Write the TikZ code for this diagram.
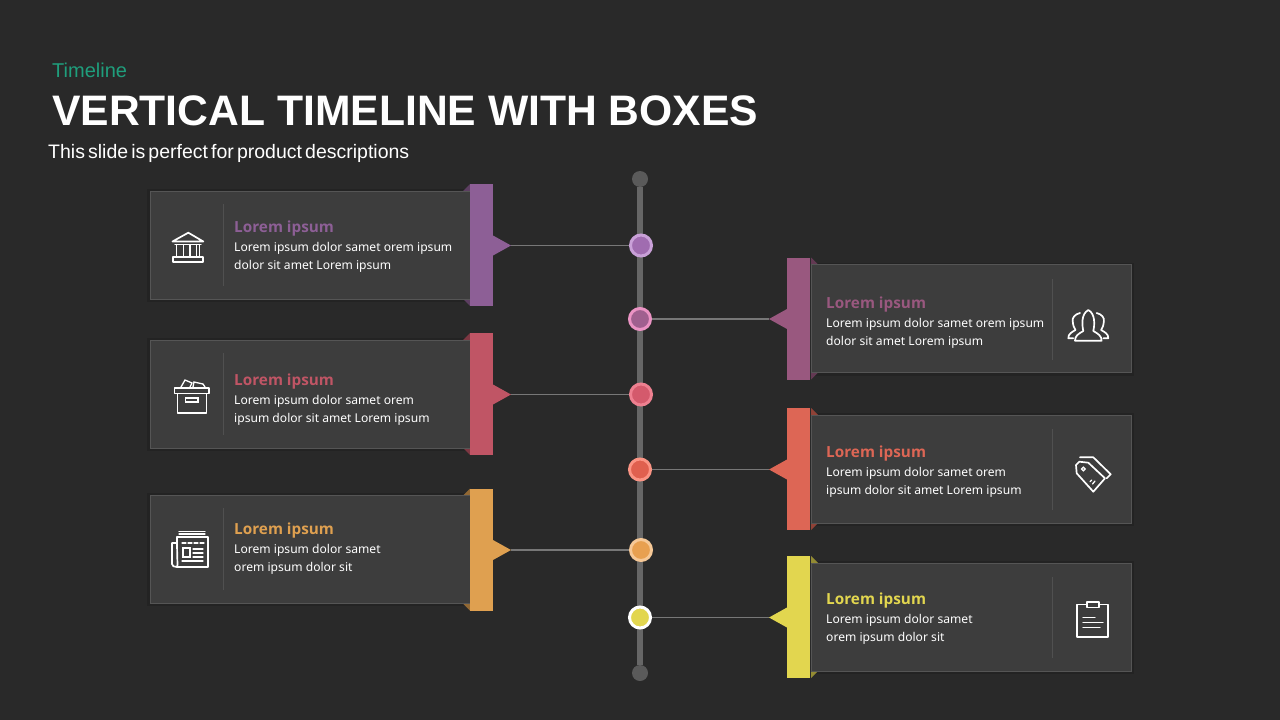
\documentclass[tikz,border=0pt]{standalone}
\usepackage{fontspec}
\setmainfont{Liberation Sans}
\newfontfamily\bodyfont{Noto Sans}
\newfontfamily\headfont{Open Sans}[BoldFont={Open Sans Bold}]
\definecolor{bg}{HTML}{292929}
\definecolor{cardfill}{HTML}{3D3D3D}
\definecolor{cardline}{HTML}{555555}
\definecolor{cardshade}{HTML}{232323}
\definecolor{axisgrey}{HTML}{666666}
\definecolor{endgrey}{HTML}{5A5A5A}
\definecolor{linkgrey}{HTML}{777777}
\definecolor{sepgrey}{HTML}{505050}
\definecolor{teal}{HTML}{1F9E7C}
\definecolor{cA}{HTML}{8D5F96}\definecolor{rA}{HTML}{C9A0D8}\definecolor{mA}{HTML}{A06CB0}
\definecolor{cB}{HTML}{99587F}\definecolor{rB}{HTML}{EB93C4}\definecolor{mB}{HTML}{A0608F}
\definecolor{cC}{HTML}{C05565}\definecolor{rC}{HTML}{EE8090}\definecolor{mC}{HTML}{D45A6C}
\definecolor{cD}{HTML}{DD6655}\definecolor{rD}{HTML}{FB9484}\definecolor{mD}{HTML}{E0604F}
\definecolor{cE}{HTML}{DFA050}\definecolor{rE}{HTML}{F6C896}\definecolor{mE}{HTML}{E8A050}
\definecolor{cF}{HTML}{E2D64F}\definecolor{rF}{HTML}{FFFFFF}\definecolor{mF}{HTML}{E2D64F}
\tikzset{
  x=1pt,y=-1pt,
  card/.style={draw=cardline,fill=cardfill,line width=1pt,minimum width=320pt,minimum height=108pt,inner sep=0pt},
  flag/.style={minimum width=23pt,minimum height=122pt,inner sep=0pt},
  dot/.style={circle,minimum size=21pt,inner sep=0pt,line width=3pt},
  enddot/.style={circle,fill=endgrey,minimum size=16pt,inner sep=0pt},
  link/.style={draw=linkgrey,line width=1.6pt},
  sep/.style={draw=sepgrey,line width=1pt},
  head/.style={anchor=base west,inner sep=0pt,font=\headfont\fontsize{15.3}{18}\selectfont\bfseries},
  bodytext/.style={anchor=base west,inner sep=0pt,text=white,font=\bodyfont\fontsize{12.1}{14}\selectfont},
  icon/.style={draw=white,line width=1.7pt,line join=round,line cap=round},
  thin icon/.style={draw=white,line width=1.3pt,line cap=round}
}
% #1 name #2 card centre y #3 flag tip y #4 colour #5 heading baseline
% #6 line 1 #7 line 2
\newcommand{\leftcard}[7]{
  \fill[cardshade] (147,#2-56) rectangle (470,#2+57);
  \fill[#4!65!black] (463,#3-54.5) -- (470,#3-61.5) -- (470,#3-53.5) -- cycle;
  \fill[#4!65!black] (463,#3+53.5) -- (470,#3+60.5) -- (470,#3+52.5) -- cycle;
  \node[card] (card#1) at (310,#2) {};
  \node[flag,fill=#4] (flag#1) at (481.5,#3-0.5) {};
  \coordinate (tip#1) at (511,#3);
  \fill[#4] (493,#3-10) -- (tip#1) -- (493,#3+10) -- cycle;
  \draw[sep] (223,#2-41) -- (223,#2+41);
  \node[head,text=#4] (title#1) at (234,#5) {Lorem ipsum};
  \node[bodytext] (lineone#1) at (234,#5+19) {#6};
  \node[bodytext] (linetwo#1) at (234,#5+37) {#7};
}
\newcommand{\rightcard}[7]{
  \fill[cardshade] (811,#2-56) rectangle (1134,#2+57);
  \fill[#4!65!black] (818,#3-54.5) -- (811,#3-61.5) -- (811,#3-53.5) -- cycle;
  \fill[#4!65!black] (818,#3+53.5) -- (811,#3+60.5) -- (811,#3+52.5) -- cycle;
  \node[card] (card#1) at (971,#2) {};
  \node[flag,fill=#4] (flag#1) at (798.5,#3-0.5) {};
  \coordinate (tip#1) at (769,#3);
  \fill[#4] (787,#3-10) -- (tip#1) -- (787,#3+10) -- cycle;
  \draw[sep] (1052,#2-40) -- (1052,#2+41);
  \node[head,text=#4] (title#1) at (826,#5) {Lorem ipsum};
  \node[bodytext] (lineone#1) at (826,#5+19) {#6};
  \node[bodytext] (linetwo#1) at (826,#5+37) {#7};
}
\begin{document}
\begin{tikzpicture}
\useasboundingbox (0,0) rectangle (1280,720);
\fill[bg] (0,0) rectangle (1280,720);
% heading
\node[anchor=base west,inner sep=0pt,text=teal,font=\fontsize{20}{24}\selectfont] (kicker) at (52,77) {Timeline};
\node[anchor=base west,inner sep=0pt,text=white,font=\fontsize{42.65}{48}\selectfont\bfseries] (maintitle) at (52,125) {VERTICAL TIMELINE WITH BOXES};
\node[anchor=base west,inner sep=0pt,text=white,font=\fontsize{19.5}{24}\selectfont] (subtitle) at (48,158) {\spaceskip=3.1pt This slide is perfect for product descriptions};
% axis
\node[enddot] (axistop) at (640,179) {};
\node[enddot] (axisbottom) at (640,673) {};
\draw[axisgrey,line width=5.5pt] (axistop) -- (axisbottom);
% cards
\leftcard{A}{245}{245.5}{cA}{232}{Lorem ipsum dolor samet orem ipsum}{dolor sit amet Lorem ipsum}
\rightcard{B}{318.5}{319}{cB}{308}{Lorem ipsum dolor samet orem ipsum}{dolor sit amet Lorem ipsum}
\leftcard{C}{394}{394.5}{cC}{385}{Lorem ipsum dolor samet orem}{ipsum dolor sit amet Lorem ipsum}
\rightcard{D}{469}{469.5}{cD}{457}{Lorem ipsum dolor samet orem}{ipsum dolor sit amet Lorem ipsum}
\leftcard{E}{549}{550}{cE}{534}{Lorem ipsum dolor samet}{orem ipsum dolor sit}
\rightcard{F}{617}{617.5}{cF}{604}{Lorem ipsum dolor samet}{orem ipsum dolor sit}
% dots and links
\node[dot,draw=rA,fill=mA] (dotA) at (641,245.5) {};
\node[dot,draw=rB,fill=mB] (dotB) at (640,319) {};
\node[dot,draw=rC,fill=mC] (dotC) at (641,394.5) {};
\node[dot,draw=rD,fill=mD] (dotD) at (640,469.5) {};
\node[dot,draw=rE,fill=mE] (dotE) at (641,550) {};
\node[dot,draw=rF,fill=mF] (dotF) at (640,617.5) {};
\foreach \n in {A,B,C,D,E,F}{\draw[link] (tip\n) -- (dot\n);}
% bank icon
\draw[icon] (172.5,241.5) -- (188.3,232.7) -- (203.3,241.5) -- cycle;
\draw[icon] (173.3,257.3) rectangle (202.7,261.7);
\draw[thin icon] (175,244.5) -- (201,244.5);
\foreach \x in {176.7,183.3,190,196.7}{\draw[thin icon] (\x,244.5) -- (\x,257);}
\draw[thin icon] (199.5,244.5) -- (199.5,257);
% box icon
\draw[icon] (174.5,388) rectangle (209,393.5);
\draw[icon] (177.5,393.5) rectangle (206.5,413);
\draw[thin icon] (185.5,398) rectangle (198,402);
\draw[thin icon] (181,387) -- (185,380) -- (192,383) -- (190,387);
\draw[thin icon] (193,387) -- (194,382) -- (203,384) -- (205,387);
% newspaper icon
\draw[icon] (177,537) -- (208,537) -- (208,567) -- (177,567);
\draw[icon] (177,543) -- (172,543) -- (172,564) .. controls (172,566) and (174,567) .. (177,567) .. controls (178,566) and (177,560) .. (177,537);
\draw[thin icon] (179,531.5) -- (205,531.5);
\draw[thin icon] (179,534) -- (205,534);
\draw[thin icon,dash pattern=on 4pt off 2pt] (182,543) -- (204,543);
\draw[thin icon] (183,548) rectangle (190,557);
\foreach \y in {549,553,557}{\draw[thin icon] (193,\y) -- (203,\y);}
\draw[thin icon] (182,561) -- (203,561);
% people icon
\draw[icon] (1075,340.7) .. controls (1075,336) and (1078,334) .. (1083.3,331) .. controls (1082,325) and (1081,314) .. (1088.3,310) .. controls (1095.6,314) and (1094.6,325) .. (1093.3,331) .. controls (1098.6,334) and (1101.6,336) .. (1101.6,340.7) -- cycle;
\draw[icon] (1080,313) .. controls (1075,314) and (1072,318) .. (1072.7,321) .. controls (1073,325) and (1074,328) .. (1075.5,330) .. controls (1072,332) and (1068,334) .. (1068.3,338.3) -- (1073.3,338.3);
\draw[icon] (1096.6,313) .. controls (1101.6,314) and (1104.6,318) .. (1103.9,321) .. controls (1103.6,325) and (1102.6,328) .. (1101.1,330) .. controls (1104.6,332) and (1108.6,334) .. (1108.3,338.3) -- (1103.3,338.3);
% tag icon
\draw[icon] (1076,465) -- (1079.3,461.7) -- (1088.3,462.7) -- (1105,478.3) -- (1093.3,491.7) -- (1076.7,473.3) -- cycle;
\draw[icon] (1080,457.3) -- (1093.3,457.3) -- (1110.7,474.3) -- (1106.7,478.3);
\draw[thin icon] (1083.3,469) circle (1.8pt);
\draw[thin icon] (1090,481.7) -- (1091.7,480);
\draw[thin icon] (1092.5,484) -- (1095,481);
% clipboard icon
\draw[icon] (1086.7,604.5) -- (1076.7,604.5) -- (1076.7,636.7) -- (1108.3,636.7) -- (1108.3,604.5) -- (1099.3,604.5);
\draw[icon] (1086.7,602) rectangle (1099.3,607.5);
\draw[thin icon] (1083,617.7) -- (1095,617.7);
\draw[thin icon] (1083,622.3) -- (1103,622.3);
\draw[thin icon] (1083,627.7) -- (1100,627.7);
\end{tikzpicture}
\end{document}
